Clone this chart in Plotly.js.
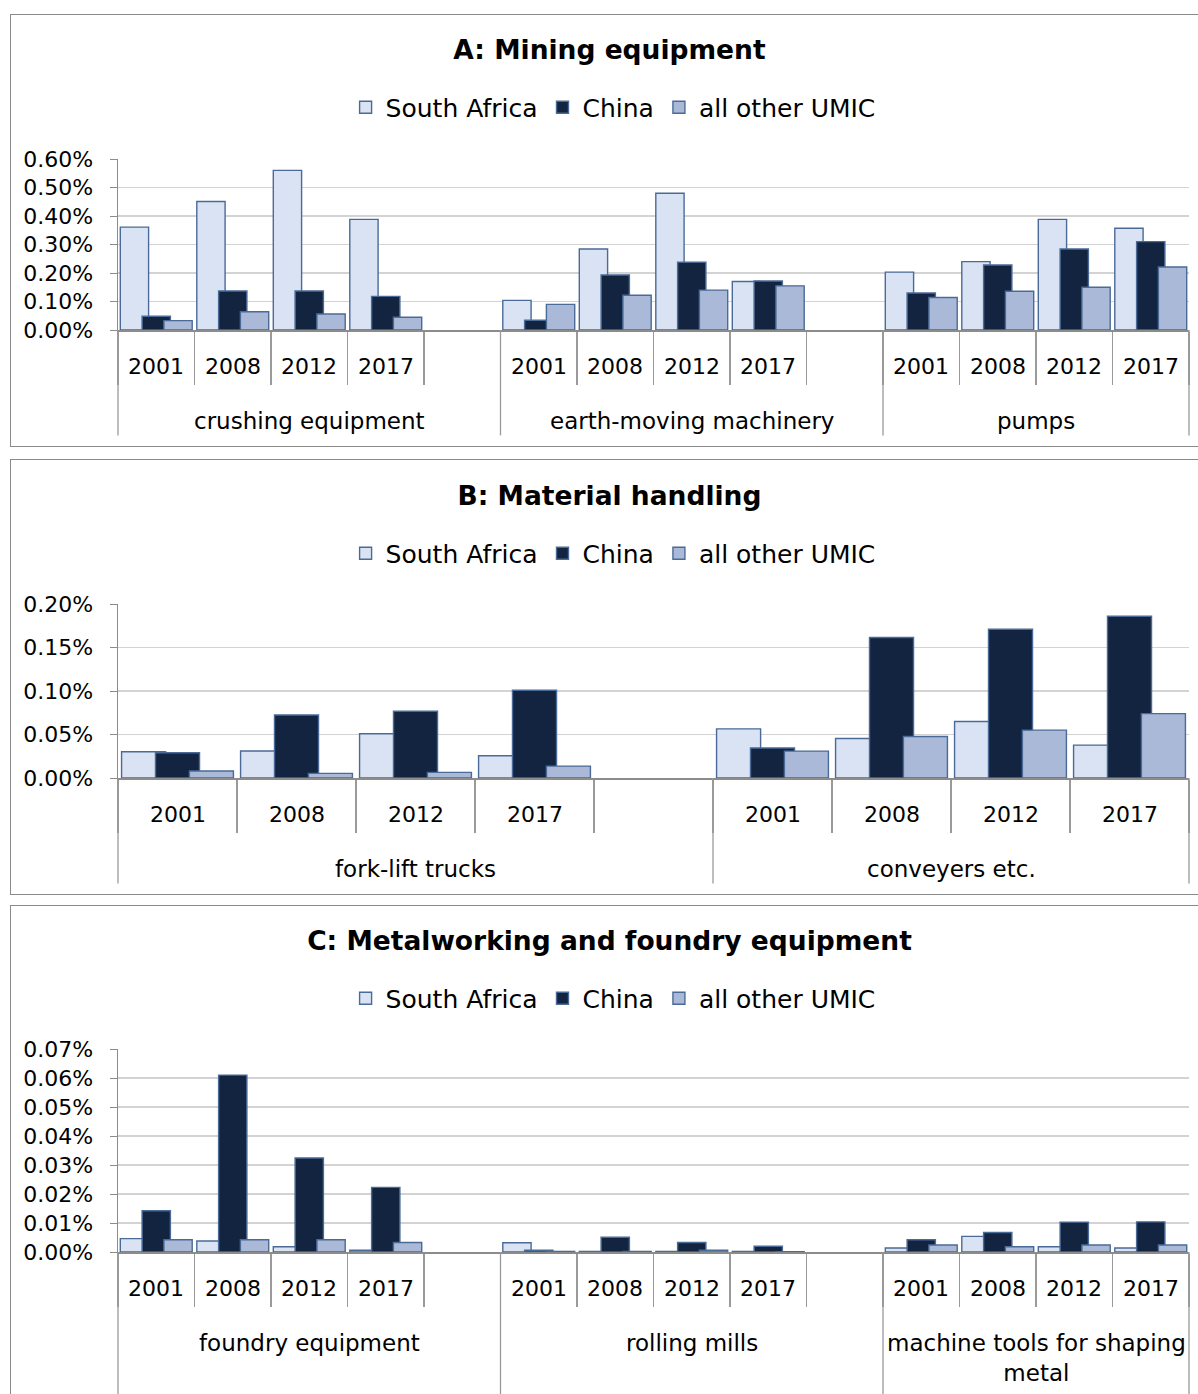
<!DOCTYPE html>
<html><head><meta charset="utf-8">
<script src="https://cdn.plot.ly/plotly-3.0.1.min.js"></script>
<style>
body{margin:0;background:#fff;width:1198px;height:1394px;overflow:hidden;position:relative;font-family:"DejaVu Sans";}
.panel{position:absolute;left:10px;width:1215px;border:1.5px solid #8a8a8a;box-sizing:border-box;background:#fff;}
</style></head><body>
<div class="panel" style="top:14px;height:433px;"><div id="pA"></div></div>
<div class="panel" style="top:459px;height:436px;"><div id="pB"></div></div>
<div class="panel" style="top:905px;height:520px;"><div id="pC"></div></div>
<script>
// ---- data (values in percent) ----
const years = ['2001', '2008', '2012', '2017'];
const seriesNames = ['South Africa', 'China', 'all other UMIC'];

// A: Mining equipment
const titleA = 'A: Mining equipment';
const groupsA = ['crushing equipment', 'earth-moving machinery', 'pumps'];
const southAfricaA = [0.361, 0.451, 0.560, 0.388, 0.104, 0.284, 0.480, 0.170, 0.203, 0.240, 0.388, 0.357];
const chinaA       = [0.048, 0.137, 0.137, 0.118, 0.034, 0.193, 0.238, 0.172, 0.130, 0.228, 0.284, 0.310];
const otherUmicA   = [0.033, 0.064, 0.056, 0.045, 0.090, 0.122, 0.140, 0.155, 0.114, 0.136, 0.150, 0.221];

// B: Material handling
const titleB = 'B: Material handling';
const groupsB = ['fork-lift trucks', 'conveyers etc.'];
const southAfricaB = [0.0302, 0.0310, 0.0508, 0.0256, 0.0565, 0.0454, 0.0649, 0.0378];
const chinaB       = [0.0290, 0.0725, 0.0767, 0.1008, 0.0344, 0.1615, 0.1710, 0.1859];
const otherUmicB   = [0.0080, 0.0053, 0.0065, 0.0137, 0.0309, 0.0477, 0.0550, 0.0740];

// C: Metalworking and foundry equipment
const titleC = 'C: Metalworking and foundry equipment';
const groupsC = ['foundry equipment', 'rolling mills', 'machine tools for shaping<br>metal'];
const southAfricaC = [0.0046, 0.0038, 0.0018, 0.0006, 0.0032, 0.0002, 0.0002, 0.0002, 0.0014, 0.0054, 0.0018, 0.0014];
const chinaC       = [0.0142, 0.0610, 0.0324, 0.0223, 0.0006, 0.0051, 0.0033, 0.0020, 0.0042, 0.0067, 0.0103, 0.0104];
const otherUmicC   = [0.0042, 0.0042, 0.0042, 0.0033, 0.0002, 0.0002, 0.0006, 0.0001, 0.0024, 0.0018, 0.0024, 0.0024];

// ---- styling ----
const FONT = 'DejaVu Sans';
const fills = ['#dae3f3', '#12243f', '#a9b9d7'];
const outline = '#4a6b98';
const barWidth = 0.37;
const offsets = [-0.47, -0.185, 0.10];

function buildPanel(id, cfg) {
  const cats = [];
  const groupStart = [];
  cfg.groups.forEach((g, gi) => {
    groupStart.push(cats.length);
    years.forEach(y => cats.push(g + '|' + y));
    if (gi < cfg.groups.length - 1) cats.push(g + '|gap');
  });
  const N = cats.length;
  const xs = [];
  cfg.groups.forEach(g => years.forEach(y => xs.push(g + '|' + y)));

  const traces = cfg.data.map((vals, i) => ({
    type: 'bar', x: xs, y: vals, name: seriesNames[i],
    width: barWidth, offset: offsets[i],
    marker: {color: fills[i], line: {color: outline, width: 1.4}},
    hoverinfo: 'skip'
  }));

  const annotations = [];
  const shapes = [];
  const plotH = cfg.height - cfg.mt - cfg.mb;
  // year labels
  xs.forEach(k => {
    const idx = cats.indexOf(k);
    annotations.push({xref: 'paper', yref: 'paper', x: (idx + 0.5) / N, y: 0, yshift: -36,
      yanchor: 'middle', xanchor: 'center', showarrow: false, text: k.split('|')[1],
      font: {family: FONT, size: 22, color: '#000'}});
  });
  // group labels + dividers
  cfg.groups.forEach((g, gi) => {
    const s = groupStart[gi];
    const e = gi < cfg.groups.length - 1 ? groupStart[gi + 1] : N;
    annotations.push({xref: 'paper', yref: 'paper', x: ((s + e) / 2) / N, y: 0,
      yanchor: 'top', xanchor: 'center', showarrow: false, text: g,
      font: {family: FONT, size: 23, color: '#000'}, yshift: -76});
    shapes.push({type: 'line', xref: 'paper', yref: 'paper', x0: s / N, x1: s / N, y0: 0,
      y1: -cfg.divLen / plotH, line: {color: '#9a9a9a', width: 1.3}});
  });
  shapes.push({type: 'line', xref: 'paper', yref: 'paper', x0: 1, x1: 1, y0: 0,
    y1: -cfg.divLen / plotH, line: {color: '#9a9a9a', width: 1.3}});

  const layout = {
    width: 1197, height: cfg.height,
    margin: {l: 106.5, r: 18.5, t: cfg.mt, b: cfg.mb},
    paper_bgcolor: '#fff', plot_bgcolor: '#fff',
    barmode: 'overlay',
    title: {text: cfg.title, font: {family: FONT, size: 26.5, weight: 700, color: '#000'},
      xref: 'container', x: 0.5, xanchor: 'center', yref: 'container',
      y: 1 - cfg.titleY / cfg.height, yanchor: 'middle'},
    legend: {orientation: 'h', xref: 'container', x: 0.503, xanchor: 'center', yref: 'container',
      y: 1 - cfg.legendY / cfg.height, yanchor: 'middle',
      font: {family: FONT, size: 25, color: '#000'}, traceorder: 'normal', itemwidth: 30},
    xaxis: {type: 'category', categoryorder: 'array', categoryarray: cats, range: [-0.5, N - 0.5],
      showticklabels: false, ticks: 'outside', tickson: 'boundaries', ticklen: 53,
      tickcolor: '#9a9a9a', tickwidth: 1.3, showline: true, linecolor: '#8c8c8c', linewidth: 1.5,
      showgrid: false, zeroline: false, fixedrange: true},
    yaxis: {range: [0, cfg.ymax], dtick: cfg.dtick, tickformat: '.2f', ticksuffix: '%',
      showline: true, linecolor: '#8c8c8c', linewidth: 1.5, ticks: 'outside', ticklen: 7,
      tickcolor: '#8c8c8c', gridcolor: '#d3d3d3', gridwidth: 1.3, zeroline: false,
      ticklabelstandoff: 12,
      tickfont: {family: FONT, size: 22, color: '#000'}, fixedrange: true},
    annotations: annotations, shapes: shapes, showlegend: true
  };
  Plotly.newPlot(id, traces, layout, {displayModeBar: false, staticPlot: true});
}

buildPanel('pA', {title: titleA, groups: groupsA, data: [southAfricaA, chinaA, otherUmicA],
  height: 430, mt: 143.5, mb: 114.5, ymax: 0.6, dtick: 0.1, titleY: 34.5, legendY: 92.5, divLen: 106});
buildPanel('pB', {title: titleB, groups: groupsB, data: [southAfricaB, chinaB, otherUmicB],
  height: 433, mt: 143.5, mb: 114.5, ymax: 0.2, dtick: 0.05, titleY: 35.5, legendY: 93.5, divLen: 106});
buildPanel('pC', {title: titleC, groups: groupsC, data: [southAfricaC, chinaC, otherUmicC],
  height: 517, mt: 142.5, mb: 170.5, ymax: 0.07, dtick: 0.01, titleY: 34.5, legendY: 92.5, divLen: 170});
</script>
</body></html>
